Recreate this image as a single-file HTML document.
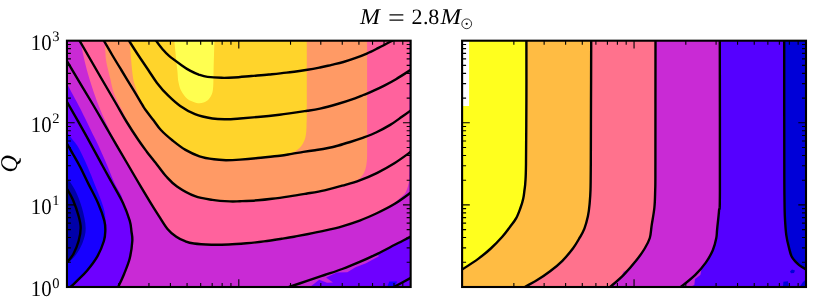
<!DOCTYPE html>
<html><head><meta charset="utf-8"><title>plot</title>
<style>html,body{margin:0;padding:0;background:#fff;}body{width:830px;height:308px;overflow:hidden;font-family:"Liberation Serif",serif;}svg{display:block;}</style>
</head><body>
<svg width="830" height="308" viewBox="0 0 830 308">
<defs><clipPath id="cl"><rect x="67.0" y="40.7" width="343.7" height="246.3"/></clipPath>
<clipPath id="cr"><rect x="462.1" y="40.7" width="343.9" height="246.3"/></clipPath></defs>
<rect width="830" height="308" fill="#fff"/>
<g clip-path="url(#cl)">
<rect x="67.0" y="40.7" width="343.7" height="246.3" fill="rgb(110,0,255)"/>
<path d="M66.5,82.8 C67.6,84.8 70.6,90.5 73.0,95.0 C75.4,99.5 78.2,104.4 81.0,110.0 C83.8,115.6 87.1,122.5 90.0,128.5 C92.9,134.5 95.8,139.9 98.6,146.0 C101.4,152.1 104.4,159.0 107.0,165.0 C109.6,171.0 111.6,176.8 114.0,182.0 C116.4,187.2 120.0,192.5 121.5,196.0 C123.0,199.5 121.7,199.1 123.1,203.2 C124.5,207.3 128.3,216.0 129.7,220.6 C131.1,225.2 131.0,227.6 131.4,231.0 C131.8,234.4 132.6,236.4 132.3,241.0 C132.0,245.6 131.0,253.1 129.7,258.5 C128.3,263.9 126.1,269.0 124.2,273.7 C122.3,278.4 119.3,284.6 118.3,286.8 L289.0,287.0 C292.0,286.0 301.2,282.9 307.1,280.9 C313.0,278.9 318.8,277.0 324.6,275.0 C330.5,273.0 336.4,271.2 342.2,269.0 C348.0,266.8 353.8,264.4 359.7,261.9 C365.6,259.4 371.4,256.6 377.3,253.8 C383.2,251.0 389.2,247.7 394.8,244.8 C400.4,242.0 408.1,238.0 410.8,236.7 L410.6,40.7 L67.0,40.7 Z" fill="rgb(201,42,213)"/>
<path d="M286.0,287.0 L310.0,287.0 L319.2,279.8 L327.0,282.8 L333.0,282.5 L326.0,277.5 L336.8,272.6 L347.3,272.3 L355.5,267.3 L366.0,263.2 L378.9,256.2 L377.3,253.5 L359.7,261.4 L342.2,268.5 L324.6,274.2 L307.1,279.9Z" fill="rgb(201,42,213)"/>
<path d="M80.8,40.4 C81.2,42.9 82.2,49.9 83.4,55.5 C84.6,61.1 86.2,67.8 88.0,74.0 C89.8,80.2 91.9,87.0 94.0,93.0 C96.1,99.0 97.8,103.8 100.4,110.0 C103.0,116.2 106.5,123.9 109.5,130.0 C112.5,136.1 115.5,141.0 118.5,146.5 C121.5,152.0 124.1,156.9 127.5,163.0 C130.9,169.1 135.2,176.3 139.0,182.8 C142.8,189.3 146.7,196.3 150.0,201.8 C153.3,207.3 155.9,211.3 158.8,215.8 C161.7,220.3 164.6,225.4 167.5,228.9 C170.4,232.4 173.4,234.8 176.3,236.8 C179.2,238.9 182.2,239.9 185.1,241.2 C188.0,242.5 189.5,243.8 193.9,244.5 C198.3,245.2 205.6,245.5 211.4,245.7 C217.2,245.9 223.1,245.7 228.9,245.5 C234.8,245.3 240.7,244.8 246.5,244.3 C252.3,243.8 258.1,243.2 264.0,242.4 C269.9,241.7 276.6,240.6 281.6,239.8 C286.6,239.0 289.8,238.5 294.0,237.7 C298.2,236.9 302.0,236.2 307.1,235.2 C312.2,234.2 318.8,232.9 324.6,231.6 C330.5,230.3 336.4,229.0 342.2,227.3 C348.0,225.6 353.8,223.8 359.7,221.6 C365.6,219.4 372.2,216.5 377.3,214.0 C382.4,211.5 385.9,209.4 390.0,206.5 C394.1,203.6 399.2,198.8 401.8,196.5 C404.4,194.2 404.2,194.8 405.3,193.0 C406.4,191.2 407.6,188.2 408.2,185.5 C408.8,182.8 409.0,182.9 409.2,177.0 C409.4,171.1 409.4,172.8 409.4,150.0 C409.4,127.2 409.4,58.7 409.4,40.4 Z" fill="rgb(255,98,157)"/>
<path d="M104.8,40.4 C104.9,42.3 105.2,48.7 105.4,52.0 C105.6,55.3 105.6,57.1 106.0,60.0 C106.4,62.9 107.3,66.5 108.0,69.5 C108.7,72.5 109.1,74.0 110.1,78.0 C111.1,82.0 112.0,88.1 114.0,93.4 C116.0,98.7 119.0,103.9 122.0,110.0 C125.0,116.1 129.3,124.9 132.2,130.0 C135.1,135.1 136.8,136.9 139.2,140.5 C141.6,144.1 144.0,147.9 146.8,151.7 C149.6,155.5 152.8,159.3 156.1,163.4 C159.3,167.5 162.8,172.7 166.3,176.5 C169.8,180.3 172.2,183.1 177.0,186.5 C181.8,189.9 189.1,194.8 195.0,197.2 C200.9,199.6 206.6,200.0 212.4,200.9 C218.2,201.8 225.2,202.2 229.8,202.4 C234.4,202.6 235.3,202.4 240.0,202.2 C244.7,202.0 252.5,201.7 257.8,201.3 C263.1,200.9 266.7,200.5 272.0,199.8 C277.3,199.2 283.6,198.3 289.5,197.4 C295.4,196.5 301.2,195.5 307.1,194.5 C313.0,193.5 318.8,192.6 324.6,191.3 C330.5,190.0 338.0,188.1 342.2,186.7 C346.4,185.3 347.5,183.9 350.0,182.8 C352.5,181.7 355.1,181.1 357.0,180.0 C358.9,178.9 360.2,178.0 361.5,176.5 C362.8,175.0 364.0,173.1 364.8,171.0 C365.6,168.9 366.1,166.7 366.5,164.0 C366.9,161.3 367.0,160.7 367.1,155.0 C367.2,149.3 367.1,149.1 367.1,130.0 C367.1,110.9 367.1,55.3 367.1,40.4 Z" fill="rgb(255,154,101)"/>
<path d="M129.8,40.4 C130.0,42.9 130.4,49.9 130.8,55.5 C131.2,61.1 131.9,69.2 132.5,74.0 C133.1,78.8 133.4,80.2 134.5,84.0 C135.6,87.8 137.7,93.3 139.2,96.9 C140.7,100.5 142.5,103.2 143.6,105.5 C144.7,107.8 144.3,108.0 146.0,110.5 C147.7,113.0 151.0,117.0 153.5,120.3 C156.0,123.5 157.7,126.6 160.9,130.0 C164.1,133.4 168.5,137.2 172.6,140.5 C176.7,143.8 181.0,147.3 185.5,149.9 C190.0,152.5 194.8,154.7 199.5,156.3 C204.2,157.9 209.6,158.7 214.0,159.3 C218.4,160.0 221.7,160.1 226.0,160.2 C230.3,160.2 234.7,160.0 240.0,159.6 C245.3,159.2 251.1,158.7 257.8,158.0 C264.5,157.3 275.0,156.3 280.0,155.7 C285.0,155.1 285.3,155.0 288.0,154.2 C290.7,153.4 293.7,152.3 296.0,150.8 C298.3,149.3 300.4,147.3 302.0,145.0 C303.6,142.7 304.7,140.3 305.5,137.0 C306.3,133.7 306.4,129.5 306.6,125.0 C306.8,120.5 306.8,124.1 306.8,110.0 C306.8,95.9 306.8,52.0 306.8,40.4 Z" fill="rgb(255,212,43)"/>
<path d="M174.3,40.4 C174.8,45.3 176.6,63.1 177.3,70.0 C178.0,76.9 177.7,78.2 178.4,81.7 C179.1,85.2 179.8,88.3 181.3,91.1 C182.8,93.9 184.7,96.7 187.2,98.7 C189.7,100.7 193.8,102.2 196.5,102.9 C199.2,103.6 201.5,103.2 203.5,102.6 C205.5,102.0 207.1,100.9 208.5,99.5 C209.9,98.1 211.1,96.2 211.9,94.0 C212.7,91.8 212.9,90.6 213.2,86.6 C213.5,82.6 213.4,77.7 213.6,70.0 C213.8,62.3 214.3,45.3 214.5,40.4 Z" fill="rgb(255,255,80)"/>
<path d="M387.2,287 L389.3,281.6 L397.2,281.6 L394.6,287Z" fill="rgb(23,0,255)"/>
<path d="M66.5,131.6 C67.4,132.8 70.2,136.6 72.0,139.0 C73.8,141.4 75.2,142.2 77.5,146.0 C79.8,149.8 82.2,154.7 85.5,162.0 C88.8,169.3 93.8,181.7 97.0,190.0 C100.2,198.3 103.2,205.2 104.6,212.0 C106.0,218.8 105.4,226.2 105.3,231.0 C105.2,235.8 105.2,236.8 103.9,241.0 C102.6,245.2 100.2,251.4 97.4,256.3 C94.6,261.2 90.6,266.3 87.2,270.4 C83.8,274.5 79.8,278.0 77.0,280.8 C74.2,283.6 71.7,286.0 70.6,287.0 L67.0,287.0 Z" fill="rgb(23,0,255)"/>
<path d="M66.5,177.0 C67.9,179.2 72.4,184.8 75.0,190.0 C77.6,195.2 80.2,201.7 82.0,208.0 C83.8,214.3 85.6,222.2 85.7,228.0 C85.8,233.8 84.3,238.3 82.5,243.0 C80.7,247.7 77.7,252.5 75.0,256.0 C72.3,259.5 67.9,262.7 66.5,264.0 Z" fill="rgb(0,0,168)"/>
<path d="M155.8,40.4 C156.8,41.8 159.8,46.0 162.0,48.5 C164.2,51.0 165.5,52.8 168.8,55.6 C172.1,58.4 178.4,62.9 181.9,65.4 C185.4,67.9 187.2,69.1 190.0,70.6 C192.8,72.1 195.9,73.5 198.8,74.6 C201.7,75.6 203.7,76.4 207.5,76.9 C211.3,77.4 217.2,77.7 221.6,77.8 C226.0,77.9 228.9,77.8 233.9,77.5 C238.9,77.2 245.6,76.5 251.4,76.0 C257.2,75.5 263.0,75.1 268.9,74.5 C274.8,73.9 280.1,73.4 286.5,72.6 C292.9,71.8 301.9,70.5 307.5,69.7 C313.1,68.9 316.0,68.3 320.0,67.5 C324.0,66.7 327.8,65.7 331.7,64.8 C335.6,63.9 339.5,63.1 343.4,62.0 C347.3,60.9 351.2,59.6 355.1,58.2 C359.0,56.8 362.9,55.3 366.8,53.6 C370.7,51.9 374.5,49.9 378.5,47.9 C382.5,45.9 388.2,42.8 390.6,41.5 C393.0,40.2 392.4,40.6 392.8,40.4" fill="none" stroke="#000" stroke-width="2.4"/>
<path d="M128.8,40.4 C130.4,42.9 135.2,50.6 138.5,55.5 C141.8,60.4 145.2,65.4 148.3,70.0 C151.4,74.6 153.7,78.6 157.0,82.9 C160.3,87.2 164.4,91.9 168.3,95.7 C172.2,99.5 175.8,102.9 180.2,106.0 C184.6,109.1 189.6,112.0 195.0,114.1 C200.4,116.2 207.2,117.6 212.4,118.5 C217.6,119.4 221.4,119.3 226.0,119.3 C230.6,119.3 234.7,118.9 240.0,118.5 C245.3,118.1 251.2,117.6 257.8,117.0 C264.4,116.4 271.3,115.7 279.5,114.7 C287.7,113.7 300.4,111.8 307.2,110.8 C313.9,109.8 314.9,109.7 320.0,108.6 C325.1,107.5 331.7,105.7 337.5,104.0 C343.3,102.3 350.7,99.8 355.0,98.3 C359.3,96.8 360.4,96.2 363.3,95.0 C366.2,93.8 369.1,92.8 372.6,91.2 C376.1,89.6 380.4,87.6 384.3,85.6 C388.2,83.6 391.6,81.8 396.0,79.2 C400.4,76.6 408.3,71.4 410.8,69.8" fill="none" stroke="#000" stroke-width="2.4"/>
<path d="M103.7,40.4 C105.2,42.9 109.6,50.6 112.5,55.5 C115.4,60.4 117.8,64.3 121.3,70.0 C124.8,75.7 129.8,84.0 133.4,89.9 C137.0,95.8 140.6,102.1 142.7,105.5 C144.8,108.9 144.2,108.0 146.0,110.5 C147.8,113.0 151.0,117.0 153.5,120.3 C156.0,123.5 157.7,126.6 160.9,130.0 C164.1,133.4 168.5,137.2 172.6,140.5 C176.7,143.8 181.0,147.3 185.5,149.9 C190.0,152.5 194.8,154.7 199.5,156.3 C204.2,157.9 209.6,158.7 214.0,159.3 C218.4,160.0 221.7,160.1 226.0,160.2 C230.3,160.2 234.7,160.0 240.0,159.6 C245.3,159.2 251.1,158.7 257.8,158.0 C264.5,157.3 274.4,156.4 280.0,155.7 C285.6,155.0 287.8,154.5 291.7,153.9 C295.6,153.3 299.5,152.5 303.4,151.9 C307.3,151.3 311.2,150.8 315.1,150.2 C319.0,149.6 322.9,149.1 326.8,148.3 C330.7,147.5 334.6,146.6 338.5,145.5 C342.4,144.4 346.3,143.2 350.2,142.0 C354.1,140.8 357.6,139.7 361.9,138.1 C366.2,136.5 371.3,134.7 376.0,132.5 C380.7,130.3 385.9,127.5 390.2,124.9 C394.5,122.3 398.5,119.2 401.9,116.8 C405.3,114.4 409.3,111.5 410.8,110.4" fill="none" stroke="#000" stroke-width="2.4"/>
<path d="M79.4,40.4 C82.6,46.0 92.8,63.6 98.8,74.0 C104.8,84.4 111.1,95.1 115.7,103.0 C120.3,110.9 122.6,115.3 126.4,121.5 C130.2,127.7 135.0,135.0 138.4,140.0 C141.8,145.0 143.9,147.8 146.8,151.7 C149.8,155.6 152.8,159.3 156.1,163.4 C159.3,167.5 162.8,172.7 166.3,176.5 C169.8,180.3 172.2,183.2 177.0,186.5 C181.8,189.8 189.1,194.0 195.0,196.2 C200.9,198.4 206.6,199.0 212.4,199.9 C218.2,200.8 225.2,201.2 229.8,201.4 C234.4,201.6 235.3,201.4 240.0,201.2 C244.7,201.0 252.5,200.7 257.8,200.3 C263.1,199.9 266.7,199.5 272.0,198.8 C277.3,198.2 283.6,197.3 289.5,196.4 C295.4,195.5 301.2,194.5 307.1,193.5 C313.0,192.5 318.8,191.6 324.6,190.3 C330.5,189.0 336.4,187.4 342.2,185.7 C348.0,184.0 353.8,182.5 359.7,180.3 C365.6,178.2 371.4,175.7 377.3,172.8 C383.2,169.9 389.2,166.5 394.8,163.0 C400.4,159.5 408.1,153.7 410.8,151.8" fill="none" stroke="#000" stroke-width="2.4"/>
<path d="M66.5,60.4 C70.8,67.7 85.7,92.3 92.6,104.0 C99.5,115.7 102.4,120.8 108.0,130.5 C113.6,140.2 121.3,153.3 126.4,162.0 C131.5,170.7 134.5,175.9 138.4,182.5 C142.3,189.1 146.6,196.2 150.0,201.8 C153.4,207.4 155.9,211.3 158.8,215.8 C161.7,220.3 164.6,225.4 167.5,228.9 C170.4,232.4 173.4,234.8 176.3,236.8 C179.2,238.9 182.2,240.1 185.1,241.2 C188.0,242.3 189.5,242.9 193.9,243.5 C198.3,244.1 205.6,244.5 211.4,244.7 C217.2,244.9 223.1,244.7 228.9,244.5 C234.8,244.3 240.7,243.8 246.5,243.3 C252.3,242.8 258.1,242.2 264.0,241.4 C269.9,240.7 276.6,239.6 281.6,238.8 C286.6,238.0 289.8,237.5 294.0,236.7 C298.2,235.9 302.0,235.2 307.1,234.2 C312.2,233.2 318.8,231.9 324.6,230.6 C330.5,229.3 336.4,228.0 342.2,226.3 C348.0,224.6 353.8,222.8 359.7,220.6 C365.6,218.4 371.4,215.8 377.3,213.0 C383.2,210.2 389.2,207.2 394.8,203.8 C400.4,200.4 408.1,194.5 410.8,192.6" fill="none" stroke="#000" stroke-width="2.4"/>
<path d="M66.5,101.0 C69.6,106.4 78.9,122.6 84.9,133.3 C90.9,144.1 98.0,157.4 102.4,165.5 C106.8,173.6 108.0,175.7 111.5,182.0 C115.0,188.3 120.1,196.8 123.1,203.2 C126.1,209.6 128.3,216.0 129.7,220.6 C131.1,225.2 131.0,227.6 131.4,231.0 C131.8,234.4 132.6,236.4 132.3,241.0 C132.0,245.6 131.0,253.1 129.7,258.5 C128.3,263.9 126.1,269.0 124.2,273.7 C122.3,278.4 119.3,284.6 118.3,286.8" fill="none" stroke="#000" stroke-width="2.4"/>
<path d="M289.0,287.0 C292.0,286.0 301.2,282.9 307.1,280.9 C313.0,278.9 318.8,277.0 324.6,275.0 C330.5,273.0 336.4,271.2 342.2,269.0 C348.0,266.8 353.8,264.4 359.7,261.9 C365.6,259.4 371.4,256.6 377.3,253.8 C383.2,251.0 389.2,247.7 394.8,244.8 C400.4,242.0 408.1,238.0 410.8,236.7" fill="none" stroke="#000" stroke-width="2.4"/>
<path d="M66.5,142.8 C67.7,144.8 71.2,151.0 73.5,155.0 C75.8,159.0 77.7,162.2 80.2,167.0 C82.7,171.8 85.3,177.6 88.3,183.6 C91.3,189.6 95.4,197.0 98.1,203.2 C100.8,209.4 103.1,216.0 104.3,220.6 C105.5,225.2 105.4,227.6 105.3,231.0 C105.2,234.4 105.2,236.8 103.9,241.0 C102.6,245.2 100.2,251.4 97.4,256.3 C94.6,261.2 90.6,266.3 87.2,270.4 C83.8,274.5 79.8,278.0 77.0,280.8 C74.2,283.6 71.7,286.0 70.6,287.0" fill="none" stroke="#000" stroke-width="2.4"/>
<path d="M393.8,287.0 C396.6,285.5 408.0,279.4 410.8,277.9" fill="none" stroke="#000" stroke-width="2.4"/>
<path d="M66.5,188.0 C67.6,190.0 71.0,195.3 73.0,200.0 C75.0,204.7 77.3,211.3 78.6,216.0 C79.9,220.7 80.7,223.8 80.7,228.0 C80.7,232.2 79.8,236.7 78.6,241.0 C77.4,245.3 75.4,250.3 73.4,254.0 C71.4,257.7 67.7,261.5 66.5,263.0" fill="none" stroke="#000" stroke-width="2.4"/>
</g>
<g clip-path="url(#cr)">
<rect x="462.1" y="40.7" width="343.9" height="246.3" fill="rgb(255,255,30)"/>
<path d="M526.4,40.4 C526.4,50.3 526.5,79.4 526.4,100.0 C526.3,120.6 526.2,150.4 526.0,164.0 C525.8,177.6 525.7,177.1 525.4,181.4 C525.2,185.7 524.9,187.1 524.5,190.0 C524.1,192.9 523.9,195.9 523.2,198.8 C522.6,201.7 521.8,204.3 520.6,207.5 C519.4,210.7 518.0,214.9 516.2,218.1 C514.5,221.3 512.4,223.7 510.1,226.8 C507.8,229.9 505.7,232.9 502.5,236.5 C499.3,240.1 494.8,244.8 490.8,248.5 C486.8,252.2 483.3,255.1 478.5,258.6 C473.7,262.1 464.8,267.8 462.0,269.6 L462.1,287.0 L806.0,287.0 L806.0,40.7 Z" fill="rgb(255,188,67)"/>
<path d="M591.2,40.4 C591.2,50.3 591.1,79.4 591.0,100.0 C590.9,120.6 590.9,149.0 590.8,164.0 C590.7,179.0 590.7,183.3 590.5,190.0 C590.3,196.7 590.0,199.6 589.6,204.0 C589.2,208.4 588.8,212.2 587.9,216.3 C587.0,220.4 585.8,225.0 584.4,228.6 C583.0,232.2 581.6,234.4 579.7,237.7 C577.8,241.0 575.8,244.7 572.9,248.5 C570.0,252.3 566.2,257.0 562.4,260.8 C558.6,264.6 554.3,268.1 550.1,271.3 C545.9,274.5 541.4,277.5 537.2,280.1 C533.0,282.7 526.9,285.9 524.8,287.0 L806.0,287.0 L806.0,40.7 Z" fill="rgb(255,114,141)"/>
<path d="M655.5,40.4 C655.5,61.0 655.4,139.1 655.4,164.0 C655.4,188.9 655.4,182.8 655.2,190.0 C655.0,197.2 655.0,201.7 654.4,207.5 C653.8,213.3 652.5,220.0 651.7,225.1 C650.9,230.2 651.0,234.1 649.8,238.0 C648.6,241.9 647.0,244.7 644.7,248.5 C642.4,252.3 639.5,256.4 636.0,260.8 C632.5,265.2 628.0,270.4 623.7,274.8 C619.4,279.2 612.4,285.0 610.1,287.0 L806.0,287.0 L806.0,40.7 Z" fill="rgb(201,42,213)"/>
<path d="M719.8,40.4 C719.8,65.3 720.0,161.6 719.9,190.0 C719.8,218.4 719.5,204.6 719.0,211.0 C718.5,217.4 717.6,224.1 717.2,228.6 C716.7,233.1 717.0,234.4 716.3,238.0 C715.6,241.6 714.5,246.2 712.8,250.3 C711.0,254.4 708.7,258.5 705.8,262.6 C702.9,266.7 699.5,270.7 695.3,274.8 C691.1,278.9 683.2,285.0 680.8,287.0 L806.0,287.0 L806.0,40.7 Z" fill="rgb(85,0,255)"/>
<path d="M784.2,40.4 C784.2,61.0 784.2,137.4 784.3,164.0 C784.3,190.6 784.4,191.1 784.5,200.0 C784.6,208.9 784.6,211.7 784.9,217.5 C785.2,223.3 785.6,230.1 786.3,235.1 C787.0,240.1 787.9,243.7 788.9,247.4 C789.9,251.1 790.3,254.2 792.0,257.2 C793.7,260.2 796.8,263.1 799.2,265.2 C801.6,267.2 805.2,268.8 806.4,269.5 L806.0,40.7 Z" fill="rgb(0,0,216)"/>
<rect x="462.1" y="40.7" width="7.0" height="65.3" fill="#fff"/>
<path d="M701.5,269.5 L700.3,275.0 L695.0,279.0 L694.3,285.0 L690.0,287.0 L683.0,287.0 L690.0,281.0 L696.0,274.0Z" fill="rgb(201,42,213)"/>
<path d="M621.5,276.5 L623.3,271.8 L626.6,270.0 L627.2,272.5Z" fill="rgb(201,42,213)"/>
<path d="M790.0,271.5 L792.0,269.6 L795.0,270.5 L794.0,273.0 L791.0,273.2Z" fill="rgb(0,0,216)"/>
<path d="M783.0,287.0 L783.4,281.8 L788.0,281.3 L788.6,287.0Z" fill="rgb(0,0,216)"/>
<path d="M799.5,287.0 L803.0,282.0 L806.0,279.5 L806.0,287.0Z" fill="rgb(0,0,216)"/>
<path d="M526.4,40.4 C526.4,50.3 526.5,79.4 526.4,100.0 C526.3,120.6 526.2,150.4 526.0,164.0 C525.8,177.6 525.7,177.1 525.4,181.4 C525.2,185.7 524.9,187.1 524.5,190.0 C524.1,192.9 523.9,195.9 523.2,198.8 C522.6,201.7 521.8,204.3 520.6,207.5 C519.4,210.7 518.0,214.9 516.2,218.1 C514.5,221.3 512.4,223.7 510.1,226.8 C507.8,229.9 505.7,232.9 502.5,236.5 C499.3,240.1 494.8,244.8 490.8,248.5 C486.8,252.2 483.3,255.1 478.5,258.6 C473.7,262.1 464.8,267.8 462.0,269.6" fill="none" stroke="#000" stroke-width="2.4"/>
<path d="M591.2,40.4 C591.2,50.3 591.1,79.4 591.0,100.0 C590.9,120.6 590.9,149.0 590.8,164.0 C590.7,179.0 590.7,183.3 590.5,190.0 C590.3,196.7 590.0,199.6 589.6,204.0 C589.2,208.4 588.8,212.2 587.9,216.3 C587.0,220.4 585.8,225.0 584.4,228.6 C583.0,232.2 581.6,234.4 579.7,237.7 C577.8,241.0 575.8,244.7 572.9,248.5 C570.0,252.3 566.2,257.0 562.4,260.8 C558.6,264.6 554.3,268.1 550.1,271.3 C545.9,274.5 541.4,277.5 537.2,280.1 C533.0,282.7 526.9,285.9 524.8,287.0" fill="none" stroke="#000" stroke-width="2.4"/>
<path d="M655.5,40.4 C655.5,61.0 655.4,139.1 655.4,164.0 C655.4,188.9 655.4,182.8 655.2,190.0 C655.0,197.2 655.0,201.7 654.4,207.5 C653.8,213.3 652.5,220.0 651.7,225.1 C650.9,230.2 651.0,234.1 649.8,238.0 C648.6,241.9 647.0,244.7 644.7,248.5 C642.4,252.3 639.5,256.4 636.0,260.8 C632.5,265.2 628.0,270.4 623.7,274.8 C619.4,279.2 612.4,285.0 610.1,287.0" fill="none" stroke="#000" stroke-width="2.4"/>
<path d="M719.8,40.4 C719.8,65.3 720.0,161.6 719.9,190.0 C719.8,218.4 719.5,204.6 719.0,211.0 C718.5,217.4 717.6,224.1 717.2,228.6 C716.7,233.1 717.0,234.4 716.3,238.0 C715.6,241.6 714.5,246.2 712.8,250.3 C711.0,254.4 708.7,258.5 705.8,262.6 C702.9,266.7 699.5,270.7 695.3,274.8 C691.1,278.9 683.2,285.0 680.8,287.0" fill="none" stroke="#000" stroke-width="2.4"/>
<path d="M784.2,40.4 C784.2,61.0 784.2,137.4 784.3,164.0 C784.3,190.6 784.4,191.1 784.5,200.0 C784.6,208.9 784.6,211.7 784.9,217.5 C785.2,223.3 785.6,230.1 786.3,235.1 C787.0,240.1 787.9,243.7 788.9,247.4 C789.9,251.1 790.3,254.2 792.0,257.2 C793.7,260.2 796.8,263.1 799.2,265.2 C801.6,267.2 805.2,268.8 806.4,269.5" fill="none" stroke="#000" stroke-width="2.4"/>
</g>
<g stroke="#000" fill="none">
<path d="M118.68,40.70 v4 M118.68,287.00 v-4 M148.94,40.70 v4 M148.94,287.00 v-4 M170.41,40.70 v4 M170.41,287.00 v-4 M187.07,40.70 v4 M187.07,287.00 v-4 M200.68,40.70 v4 M200.68,287.00 v-4 M212.18,40.70 v4 M212.18,287.00 v-4 M222.15,40.70 v4 M222.15,287.00 v-4 M230.94,40.70 v4 M230.94,287.00 v-4 M238.80,40.70 v7.7 M238.80,287.00 v-7.7 M290.53,40.70 v4 M290.53,287.00 v-4 M320.79,40.70 v4 M320.79,287.00 v-4 M342.26,40.70 v4 M342.26,287.00 v-4 M358.92,40.70 v4 M358.92,287.00 v-4 M372.53,40.70 v4 M372.53,287.00 v-4 M384.03,40.70 v4 M384.03,287.00 v-4 M394.00,40.70 v4 M394.00,287.00 v-4 M402.79,40.70 v4 M402.79,287.00 v-4 M66.95,262.29 h4 M410.65,262.29 h-4 M66.95,247.83 h4 M410.65,247.83 h-4 M66.95,237.57 h4 M410.65,237.57 h-4 M66.95,229.61 h4 M410.65,229.61 h-4 M66.95,223.11 h4 M410.65,223.11 h-4 M66.95,217.62 h4 M410.65,217.62 h-4 M66.95,212.86 h4 M410.65,212.86 h-4 M66.95,208.66 h4 M410.65,208.66 h-4 M66.95,204.90 h7.7 M410.65,204.90 h-7.7 M66.95,180.19 h4 M410.65,180.19 h-4 M66.95,165.73 h4 M410.65,165.73 h-4 M66.95,155.47 h4 M410.65,155.47 h-4 M66.95,147.51 h4 M410.65,147.51 h-4 M66.95,141.01 h4 M410.65,141.01 h-4 M66.95,135.52 h4 M410.65,135.52 h-4 M66.95,130.76 h4 M410.65,130.76 h-4 M66.95,126.56 h4 M410.65,126.56 h-4 M66.95,122.80 h7.7 M410.65,122.80 h-7.7 M66.95,98.09 h4 M410.65,98.09 h-4 M66.95,83.63 h4 M410.65,83.63 h-4 M66.95,73.37 h4 M410.65,73.37 h-4 M66.95,65.41 h4 M410.65,65.41 h-4 M66.95,58.91 h4 M410.65,58.91 h-4 M66.95,53.42 h4 M410.65,53.42 h-4 M66.95,48.66 h4 M410.65,48.66 h-4 M66.95,44.46 h4 M410.65,44.46 h-4" stroke-width="1.1"/>
<rect x="66.95" y="40.70" width="343.70" height="246.30" stroke-width="2.1"/>
</g>
<g stroke="#000" fill="none">
<path d="M513.86,40.70 v4 M513.86,287.00 v-4 M544.14,40.70 v4 M544.14,287.00 v-4 M565.62,40.70 v4 M565.62,287.00 v-4 M582.29,40.70 v4 M582.29,287.00 v-4 M595.90,40.70 v4 M595.90,287.00 v-4 M607.41,40.70 v4 M607.41,287.00 v-4 M617.39,40.70 v4 M617.39,287.00 v-4 M626.18,40.70 v4 M626.18,287.00 v-4 M634.05,40.70 v7.7 M634.05,287.00 v-7.7 M685.81,40.70 v4 M685.81,287.00 v-4 M716.09,40.70 v4 M716.09,287.00 v-4 M737.57,40.70 v4 M737.57,287.00 v-4 M754.24,40.70 v4 M754.24,287.00 v-4 M767.85,40.70 v4 M767.85,287.00 v-4 M779.36,40.70 v4 M779.36,287.00 v-4 M789.34,40.70 v4 M789.34,287.00 v-4 M798.13,40.70 v4 M798.13,287.00 v-4 M462.10,262.29 h4 M806.00,262.29 h-4 M462.10,247.83 h4 M806.00,247.83 h-4 M462.10,237.57 h4 M806.00,237.57 h-4 M462.10,229.61 h4 M806.00,229.61 h-4 M462.10,223.11 h4 M806.00,223.11 h-4 M462.10,217.62 h4 M806.00,217.62 h-4 M462.10,212.86 h4 M806.00,212.86 h-4 M462.10,208.66 h4 M806.00,208.66 h-4 M462.10,204.90 h7.7 M806.00,204.90 h-7.7 M462.10,180.19 h4 M806.00,180.19 h-4 M462.10,165.73 h4 M806.00,165.73 h-4 M462.10,155.47 h4 M806.00,155.47 h-4 M462.10,147.51 h4 M806.00,147.51 h-4 M462.10,141.01 h4 M806.00,141.01 h-4 M462.10,135.52 h4 M806.00,135.52 h-4 M462.10,130.76 h4 M806.00,130.76 h-4 M462.10,126.56 h4 M806.00,126.56 h-4 M462.10,122.80 h7.7 M806.00,122.80 h-7.7 M462.10,98.09 h4 M806.00,98.09 h-4 M462.10,83.63 h4 M806.00,83.63 h-4 M462.10,73.37 h4 M806.00,73.37 h-4 M462.10,65.41 h4 M806.00,65.41 h-4 M462.10,58.91 h4 M806.00,58.91 h-4 M462.10,53.42 h4 M806.00,53.42 h-4 M462.10,48.66 h4 M806.00,48.66 h-4 M462.10,44.46 h4 M806.00,44.46 h-4" stroke-width="1.1"/>
<rect x="462.10" y="40.70" width="343.90" height="246.30" stroke-width="2.1"/>
</g>
<g font-family="Liberation Serif, serif" fill="#000" text-rendering="geometricPrecision" style="will-change:transform;opacity:0.999">
<text x="30.8" y="49.7" font-size="22.4" textLength="20.8" lengthAdjust="spacingAndGlyphs">10</text>
<text x="52.3" y="41.2" font-size="14.5">3</text>
<text x="30.8" y="131.5" font-size="22.4" textLength="20.8" lengthAdjust="spacingAndGlyphs">10</text>
<text x="52.3" y="123.0" font-size="14.5">2</text>
<text x="30.8" y="213.6" font-size="22.4" textLength="20.8" lengthAdjust="spacingAndGlyphs">10</text>
<text x="52.3" y="205.1" font-size="14.5">1</text>
<text x="30.8" y="296.3" font-size="22.4" textLength="20.8" lengthAdjust="spacingAndGlyphs">10</text>
<text x="52.3" y="287.8" font-size="14.5">0</text>
<text transform="translate(16.6,163.9) rotate(-90)" text-anchor="middle" font-size="24" font-style="italic">Q</text>
<text x="360" y="24.3" font-size="22.7" font-style="italic" textLength="20" lengthAdjust="spacingAndGlyphs">M</text>
<text x="388.0" y="26.4" font-size="25.5" textLength="16.8" lengthAdjust="spacingAndGlyphs">=</text>
<text x="411.6" y="24.3" font-size="22">2</text><text x="423.0" y="24.3" font-size="22">.</text><text x="428.3" y="24.3" font-size="22">8</text>
<text x="440.6" y="24.3" font-size="22.7" font-style="italic" textLength="20.6" lengthAdjust="spacingAndGlyphs">M</text>
</g>
<circle cx="466.7" cy="23.8" r="4.9" fill="none" stroke="#000" stroke-width="0.8"/><circle cx="466.7" cy="23.8" r="1.1" fill="#000"/>
</svg>
</body></html>
